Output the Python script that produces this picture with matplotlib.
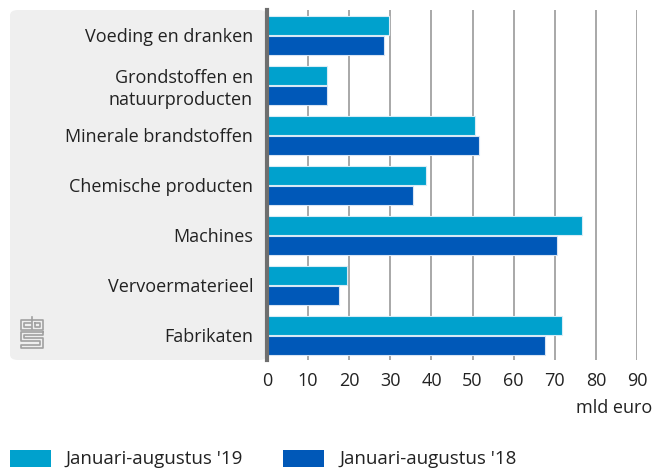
import matplotlib
matplotlib.use("Agg")
import matplotlib.pyplot as plt
from matplotlib.patches import FancyBboxPatch, Rectangle
from matplotlib.lines import Line2D

categories = ["Voeding en dranken", "Grondstoffen en\nnatuurproducten", "Minerale brandstoffen",
              "Chemische producten", "Machines", "Vervoermaterieel", "Fabrikaten"]
series_names = ["Januari-augustus '19", "Januari-augustus '18"]
values_2019 = [29.7, 14.5, 50.7, 38.6, 76.7, 19.5, 71.7]
values_2018 = [28.5, 14.5, 51.6, 35.5, 70.6, 17.6, 67.6]
xticks = [0, 10, 20, 30, 40, 50, 60, 70, 80, 90]
colors = ["#00a1cd", "#0058b8"]

W, H = 654, 470
fig = plt.figure(figsize=(W / 100, H / 100), dpi=100)
plt.rcParams['font.family'] = ['Open Sans', 'DejaVu Sans']

def fx(px):
    return px / W

def fy(py):
    return 1 - py / H

# grey label panel
panel = FancyBboxPatch((fx(10), fy(360)), fx(267) - fx(10), fy(10) - fy(360),
                       boxstyle="round,pad=0,rounding_size=0.012",
                       transform=fig.transFigure, facecolor="#efefef", edgecolor="none", zorder=-5)
fig.patches.append(panel)

ax = fig.add_axes([fx(267), fy(360), fx(637) - fx(267), fy(10) - fy(360)])
ax.set_facecolor("none")

n = len(categories)
y = list(range(n))
h = 0.38
off = 0.2
ax.barh([i - off for i in y], values_2019, height=h, color=colors[0], edgecolor="#d8ecf6", linewidth=0.8, zorder=3)
ax.barh([i + off for i in y], values_2018, height=h, color=colors[1], edgecolor="#d8e4f3", linewidth=0.8, zorder=3)

ax.set_ylim(n - 0.5, -0.5)
ax.set_xlim(0, 90)
ax.set_xticks(xticks)
ax.set_xticklabels([str(t) for t in xticks], fontsize=13, color="#222222")
ax.set_yticks(y)
ax.set_yticklabels(categories, fontsize=13, color="#222222", linespacing=1.3)
ax.tick_params(axis='both', length=0, pad=9)
ax.tick_params(axis='y', pad=10)
ax.xaxis.grid(True, color="#999999", linewidth=1.2, zorder=1)
ax.set_axisbelow(True)
for s in ["top", "right", "bottom"]:
    ax.spines[s].set_visible(False)
ax.spines["left"].set_color("#6f6f6f")
ax.spines["left"].set_linewidth(3)
ax.spines["left"].set_zorder(5)

fig.text(fx(652), fy(408), "mld euro", fontsize=13, color="#222222", ha="right", va="center")

# legend
for i, (name, c) in enumerate(zip(series_names, colors)):
    x0 = 10 + i * 273
    fig.patches.append(Rectangle((fx(x0), fy(467)), fx(41), fy(450) - fy(467),
                                 transform=fig.transFigure, facecolor=c, edgecolor="none"))
    fig.text(fx(x0 + 56), fy(459), name, fontsize=13.5, color="#222222", ha="left", va="center")

# cbs logo (simplified)
lc = "#a0a0a0"
def seg(xs, ys):
    fig.lines.append(Line2D([fx(v) for v in xs], [fy(v) for v in ys], color=lc, lw=1.2,
                            transform=fig.transFigure))
# c
seg([31, 21, 21, 31], [320, 320, 330, 330])
seg([31, 24, 24, 31], [323, 323, 327, 327])
# b
seg([32, 32, 43, 43, 32], [317, 330, 330, 320, 320])
seg([35, 35, 40, 40, 35], [323, 327, 327, 323, 323])
# s
seg([43, 21, 21, 40, 40, 21, 21, 43, 43, 24, 24, 43, 43], [332, 332, 341, 341, 345, 345, 348, 348, 338, 338, 335, 335, 332])

fig.savefig("out.png", dpi=100)
